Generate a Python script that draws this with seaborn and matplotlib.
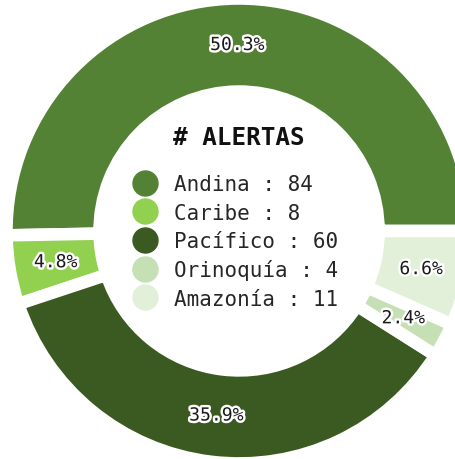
import matplotlib.pyplot as plt
import matplotlib.patheffects as pe
from matplotlib.lines import Line2D
import seaborn as sns

sns.set_theme(style="white")
plt.rcParams["font.family"] = ["DejaVu Sans Mono", "DejaVu Sans"]

# data
regions = ["Andina", "Caribe", "Pacífico", "Orinoquía", "Amazonía"]
alerts = [84, 8, 60, 4, 11]
colors = ["#548235", "#92D050", "#3B5A21", "#C5E0B4", "#E2F0D9"]
title = "# ALERTAS"

fig = plt.figure(figsize=(4.56, 4.6), dpi=100)
ax = fig.add_axes([0, 0, 1, 1])

wedges, texts, autotexts = ax.pie(
    alerts,
    colors=colors,
    startangle=0,
    counterclock=True,
    radius=1,
    autopct="%1.1f%%",
    pctdistance=0.8,
    wedgeprops=dict(width=0.4, edgecolor="white", linewidth=9),
    textprops=dict(fontsize=13, color="#1a1a1a"),
)
for t in autotexts:
    t.set_path_effects([pe.withStroke(linewidth=3.5, foreground="white")])

# the ring is cropped a little on the right and bottom
ax.set_xlim(-1.028, 0.933)
ax.set_ylim(-0.981, 0.998)
ax.set_aspect("auto")
ax.axis("off")

ax.text(0, 0.404, title, ha="center", va="center", fontsize=17.5, fontweight="bold", color="#111111")

handles = [
    Line2D([], [], marker="o", linestyle="none", markersize=18, markerfacecolor=c, markeredgecolor=c)
    for c in colors
]
labels = [f"{r} : {v}" for r, v in zip(regions, alerts)]
ax.legend(
    handles,
    labels,
    loc="center",
    bbox_to_anchor=(-0.011, -0.045),
    bbox_transform=ax.transData,
    frameon=False,
    fontsize=15,
    handlelength=1.0,
    handletextpad=0.9,
    labelspacing=0.40,
    borderpad=0,
)

fig.savefig("out.png", dpi=100)
plt.close(fig)
